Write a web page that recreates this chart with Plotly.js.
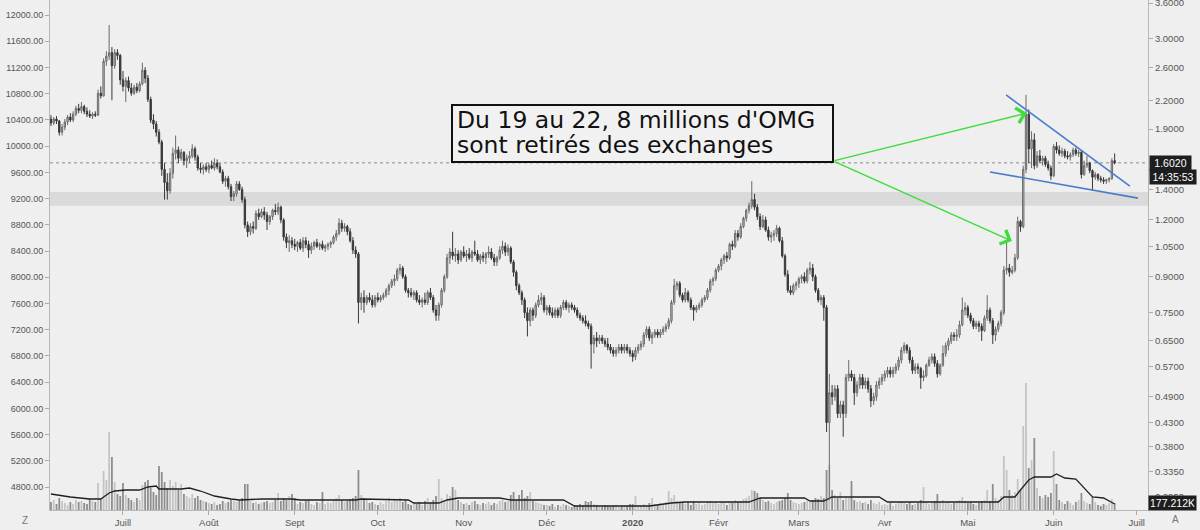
<!DOCTYPE html>
<html><head><meta charset="utf-8">
<script src="https://cdn.plot.ly/plotly-3.0.1.min.js"></script>
<style>html,body{margin:0;padding:0;background:#efefef;}#chart{width:1200px;height:530px;}</style>
</head><body><div id="chart"></div>
<script>
// OMG daily candles, 2019-06-05 .. 2020-06-23
const startDate = [2019, 5, 5];
const open = [
2.00,1.96,2.00,1.98,1.87,1.92,1.97,2.02,1.99,2.05,2.11,2.09,2.13,2.08,2.05,2.03,2.05,2.04,2.28,2.25,2.68,2.75,2.80,2.62,2.80,2.76,
2.44,2.36,2.43,2.34,2.28,2.35,2.31,2.39,2.56,2.46,2.21,1.99,1.95,1.87,1.78,1.55,1.45,1.39,1.52,1.68,1.71,1.64,1.69,1.62,1.64,1.66,1.72,1.65,1.56,1.55,1.57,
1.55,1.58,1.56,1.60,1.57,1.53,1.46,1.48,1.42,1.35,1.37,1.44,1.40,1.33,1.17,1.13,1.16,1.15,1.24,1.22,1.25,1.23,1.19,1.22,1.26,1.25,1.28,1.20,1.10,1.07,1.08,
1.06,1.05,1.07,1.04,1.08,1.06,1.03,1.05,1.07,1.05,1.06,1.04,1.05,1.06,1.07,1.10,1.12,1.18,1.15,1.16,1.13,1.08,1.03,1.01,0.79,0.81,0.79,0.81,0.80,0.78,
0.81,0.80,0.81,0.82,0.84,0.86,0.88,0.89,0.93,0.94,0.90,0.84,0.83,0.82,0.83,0.80,0.79,0.80,0.79,0.83,0.81,0.76,0.74,0.78,0.84,0.90,0.99,1.02,1.00,1.01,0.98,
1.02,1.00,1.01,0.99,1.02,1.01,0.98,1.00,0.99,1.01,1.02,0.99,0.97,0.99,1.03,1.05,1.02,1.04,0.97,0.92,0.86,0.83,0.80,0.75,0.72,0.76,0.74,0.78,0.80,0.81,
0.76,0.77,0.75,0.74,0.76,0.74,0.77,0.79,0.77,0.78,0.77,0.76,0.74,0.73,0.72,0.71,0.70,0.64,0.66,0.65,0.66,0.65,0.64,0.63,0.62,0.61,0.62,0.63,0.62,0.63,0.62,
0.61,0.60,0.62,0.63,0.64,0.67,0.69,0.66,0.67,0.68,0.67,0.68,0.69,0.70,0.72,0.79,0.86,0.87,0.82,0.80,0.83,0.80,0.77,0.76,0.77,0.78,0.80,0.81,0.84,0.88,0.89,
0.93,0.95,0.98,1.00,0.99,1.06,1.05,1.12,1.10,1.16,1.21,1.26,1.29,1.33,1.28,1.22,1.16,1.20,1.14,1.10,1.11,1.12,1.15,1.08,1.00,0.91,0.84,0.83,0.86,
0.87,0.89,0.90,0.88,0.93,0.94,0.90,0.84,0.80,0.81,0.77,0.43,0.50,0.49,0.51,0.45,0.47,0.45,0.54,0.55,0.54,0.50,0.52,0.54,0.52,0.53,0.51,0.48,0.49,0.52,0.53,
0.54,0.55,0.56,0.55,0.56,0.57,0.59,0.62,0.635,0.62,0.59,0.56,0.57,0.565,0.54,0.545,0.575,0.59,0.60,0.58,0.55,0.575,0.61,0.635,0.65,0.67,0.665,0.67,0.705,0.76,
0.77,0.74,0.72,0.70,0.71,0.70,0.685,0.73,0.76,0.72,0.67,0.69,0.71,0.75,0.93,0.94,0.92,0.93,0.99,1.19,1.16,1.55,2.05,1.72,1.80,1.58,1.66,1.62,1.64,1.59,1.56,
1.50,1.74,1.71,1.68,1.70,1.66,1.65,1.67,1.71,1.68,1.69,1.51,1.58,1.60,1.54,1.49,1.51,1.48,1.47,1.46,1.47,1.48,1.62];
const high = [
2.04,2.02,2.03,1.99,1.95,2.00,2.04,2.06,2.08,2.14,2.16,2.18,2.15,2.12,2.09,2.07,2.08,2.32,2.36,2.72,2.82,3.22,2.88,2.85,2.85,2.78,
2.55,2.47,2.48,2.40,2.38,2.40,2.42,2.66,2.60,2.50,2.24,2.05,1.98,1.90,1.80,1.60,1.52,1.56,1.73,1.84,1.74,1.72,1.70,1.67,1.70,1.76,1.74,1.67,1.60,1.59,1.60,
1.60,1.62,1.64,1.63,1.60,1.55,1.50,1.50,1.44,1.39,1.46,1.46,1.42,1.35,1.19,1.18,1.19,1.26,1.27,1.27,1.28,1.25,1.23,1.27,1.30,1.31,1.29,1.21,1.12,1.11,1.10,
1.09,1.08,1.09,1.10,1.10,1.08,1.07,1.08,1.09,1.07,1.08,1.06,1.07,1.08,1.11,1.14,1.21,1.20,1.18,1.17,1.15,1.10,1.05,1.02,0.83,0.84,0.82,0.83,0.82,0.82,
0.83,0.82,0.83,0.85,0.87,0.89,0.91,0.94,0.96,0.95,0.91,0.85,0.85,0.84,0.84,0.82,0.81,0.83,0.84,0.85,0.82,0.78,0.79,0.85,0.91,1.01,1.04,1.13,1.04,1.03,1.03,
1.05,1.03,1.04,1.03,1.08,1.03,1.01,1.02,1.02,1.05,1.04,1.01,1.00,1.05,1.08,1.07,1.06,1.05,0.98,0.93,0.87,0.84,0.81,0.77,0.77,0.77,0.79,0.82,0.83,0.82,
0.78,0.78,0.77,0.77,0.77,0.78,0.80,0.80,0.79,0.79,0.78,0.77,0.75,0.74,0.74,0.72,0.71,0.67,0.68,0.67,0.67,0.66,0.66,0.64,0.63,0.63,0.64,0.64,0.64,0.64,0.63,
0.62,0.63,0.64,0.65,0.68,0.70,0.70,0.68,0.69,0.69,0.69,0.70,0.71,0.73,0.80,0.89,0.88,0.88,0.83,0.85,0.84,0.81,0.78,0.78,0.79,0.81,0.82,0.85,0.89,0.90,0.94,
0.96,0.99,1.01,1.02,1.07,1.08,1.14,1.14,1.18,1.22,1.27,1.31,1.46,1.37,1.30,1.24,1.23,1.22,1.16,1.13,1.14,1.17,1.16,1.10,1.01,0.93,0.86,0.87,0.88,
0.90,0.91,0.92,0.94,0.97,0.96,0.91,0.85,0.82,0.82,0.78,0.55,0.52,0.52,0.52,0.48,0.48,0.55,0.59,0.56,0.55,0.53,0.55,0.55,0.54,0.54,0.52,0.50,0.53,0.54,0.55,
0.56,0.57,0.57,0.57,0.58,0.60,0.63,0.645,0.64,0.63,0.60,0.58,0.58,0.57,0.56,0.58,0.60,0.61,0.61,0.59,0.58,0.635,0.645,0.66,0.68,0.68,0.69,0.72,0.81,0.79,
0.78,0.75,0.73,0.72,0.72,0.71,0.74,0.82,0.77,0.73,0.70,0.72,0.76,0.95,1.08,0.96,0.95,1.01,1.22,1.20,1.58,2.26,2.10,1.88,1.86,1.70,1.71,1.66,1.66,1.62,1.58,
1.76,1.78,1.75,1.73,1.72,1.70,1.69,1.73,1.73,1.71,1.70,1.62,1.66,1.61,1.55,1.53,1.52,1.50,1.49,1.48,1.49,1.64,1.68];
const low = [
1.93,1.94,1.95,1.84,1.84,1.89,1.94,1.97,1.97,2.03,2.06,2.06,2.05,2.02,2.01,2.00,2.02,2.03,2.22,2.24,2.62,2.70,2.20,2.58,2.70,2.38,
2.30,2.18,2.30,2.25,2.26,2.28,2.29,2.37,2.40,2.18,1.96,1.90,1.83,1.76,1.50,1.33,1.33,1.37,1.48,1.63,1.60,1.62,1.58,1.56,1.60,1.64,1.62,1.54,1.52,1.51,1.53,
1.52,1.55,1.54,1.55,1.52,1.44,1.42,1.40,1.32,1.32,1.35,1.39,1.31,1.15,1.10,1.11,1.12,1.14,1.20,1.21,1.20,1.14,1.17,1.20,1.23,1.23,1.18,1.08,1.04,1.02,1.04,
1.03,1.02,1.03,1.02,1.04,0.99,1.01,1.03,1.04,1.03,1.03,1.02,1.03,1.04,1.06,1.08,1.11,1.13,1.13,1.11,1.07,1.01,0.99,0.71,0.76,0.75,0.78,0.79,0.77,0.77,
0.79,0.79,0.80,0.81,0.82,0.85,0.86,0.88,0.91,0.89,0.83,0.81,0.81,0.80,0.79,0.78,0.77,0.78,0.78,0.80,0.75,0.72,0.72,0.77,0.83,0.89,0.96,0.98,0.97,0.96,0.97,
0.99,0.97,0.98,0.97,1.00,0.97,0.96,0.97,0.96,0.99,0.98,0.95,0.95,0.98,1.01,1.00,1.00,0.96,0.90,0.84,0.82,0.78,0.73,0.665,0.70,0.72,0.73,0.77,0.78,0.75,
0.74,0.74,0.73,0.73,0.73,0.73,0.76,0.76,0.75,0.76,0.75,0.73,0.72,0.71,0.70,0.69,0.565,0.61,0.63,0.64,0.64,0.63,0.62,0.61,0.60,0.60,0.61,0.61,0.61,0.61,0.60,
0.585,0.59,0.61,0.62,0.63,0.66,0.65,0.64,0.66,0.66,0.66,0.67,0.68,0.69,0.71,0.78,0.84,0.81,0.79,0.79,0.79,0.76,0.72,0.75,0.76,0.77,0.79,0.80,0.83,0.86,0.88,
0.92,0.93,0.96,0.97,0.98,1.03,1.04,1.08,1.09,1.15,1.19,1.24,1.27,1.26,1.20,1.14,1.15,1.13,1.08,1.07,1.08,1.10,1.07,0.99,0.90,0.83,0.82,0.82,0.84,
0.85,0.87,0.87,0.87,0.91,0.88,0.83,0.79,0.78,0.72,0.41,0.29,0.47,0.48,0.44,0.44,0.40,0.44,0.53,0.53,0.47,0.49,0.51,0.51,0.51,0.50,0.465,0.47,0.48,0.51,0.52,
0.53,0.54,0.54,0.54,0.55,0.56,0.58,0.61,0.61,0.58,0.55,0.55,0.55,0.51,0.53,0.54,0.57,0.58,0.57,0.54,0.545,0.57,0.60,0.62,0.64,0.65,0.65,0.66,0.70,0.74,
0.73,0.71,0.69,0.69,0.68,0.65,0.68,0.72,0.71,0.64,0.65,0.68,0.70,0.74,0.91,0.90,0.91,0.92,0.98,1.13,1.15,1.52,1.60,1.56,1.55,1.56,1.60,1.58,1.57,1.54,1.47,
1.49,1.68,1.66,1.65,1.64,1.63,1.62,1.65,1.66,1.65,1.48,1.50,1.56,1.52,1.39,1.47,1.46,1.45,1.44,1.44,1.45,1.47,1.59];
const close = [
1.96,2.00,1.98,1.87,1.92,1.97,2.02,1.99,2.05,2.11,2.09,2.13,2.08,2.05,2.03,2.05,2.04,2.28,2.25,2.68,2.75,2.80,2.62,2.80,2.76,2.44,
2.36,2.43,2.34,2.28,2.35,2.31,2.39,2.56,2.46,2.21,1.99,1.95,1.87,1.78,1.55,1.45,1.39,1.52,1.68,1.71,1.64,1.69,1.62,1.64,1.66,1.72,1.65,1.56,1.55,1.57,1.55,
1.58,1.56,1.60,1.57,1.53,1.46,1.48,1.42,1.35,1.37,1.44,1.40,1.33,1.17,1.13,1.16,1.15,1.24,1.22,1.25,1.23,1.19,1.22,1.26,1.25,1.28,1.20,1.10,1.07,1.08,1.06,
1.05,1.07,1.04,1.08,1.06,1.03,1.05,1.07,1.05,1.06,1.04,1.05,1.06,1.07,1.10,1.12,1.18,1.15,1.16,1.13,1.08,1.03,1.01,0.79,0.81,0.79,0.81,0.80,0.78,0.81,
0.80,0.81,0.82,0.84,0.86,0.88,0.89,0.93,0.94,0.90,0.84,0.83,0.82,0.83,0.80,0.79,0.80,0.79,0.83,0.81,0.76,0.74,0.78,0.84,0.90,0.99,1.02,1.00,1.01,0.98,1.02,
1.00,1.01,0.99,1.02,1.01,0.98,1.00,0.99,1.01,1.02,0.99,0.97,0.99,1.03,1.05,1.02,1.04,0.97,0.92,0.86,0.83,0.80,0.75,0.72,0.76,0.74,0.78,0.80,0.81,0.76,
0.77,0.75,0.74,0.76,0.74,0.77,0.79,0.77,0.78,0.77,0.76,0.74,0.73,0.72,0.71,0.70,0.64,0.66,0.65,0.66,0.65,0.64,0.63,0.62,0.61,0.62,0.63,0.62,0.63,0.62,0.61,
0.60,0.62,0.63,0.64,0.67,0.69,0.66,0.67,0.68,0.67,0.68,0.69,0.70,0.72,0.79,0.86,0.87,0.82,0.80,0.83,0.80,0.77,0.76,0.77,0.78,0.80,0.81,0.84,0.88,0.89,0.93,
0.95,0.98,1.00,0.99,1.06,1.05,1.12,1.10,1.16,1.21,1.26,1.29,1.33,1.28,1.22,1.16,1.20,1.14,1.10,1.11,1.12,1.15,1.08,1.00,0.91,0.84,0.83,0.86,0.87,
0.89,0.90,0.88,0.93,0.94,0.90,0.84,0.80,0.81,0.77,0.43,0.50,0.49,0.51,0.45,0.47,0.45,0.54,0.55,0.54,0.50,0.52,0.54,0.52,0.53,0.51,0.48,0.49,0.52,0.53,0.54,
0.55,0.56,0.55,0.56,0.57,0.59,0.62,0.635,0.62,0.59,0.56,0.57,0.565,0.54,0.545,0.575,0.59,0.60,0.58,0.55,0.575,0.61,0.635,0.65,0.67,0.665,0.67,0.705,0.76,0.77,
0.74,0.72,0.70,0.71,0.70,0.685,0.73,0.76,0.72,0.67,0.69,0.71,0.75,0.93,0.94,0.92,0.93,0.99,1.19,1.16,1.55,2.05,1.72,1.80,1.58,1.66,1.62,1.64,1.59,1.56,1.50,
1.74,1.71,1.68,1.70,1.66,1.65,1.67,1.71,1.68,1.69,1.51,1.58,1.60,1.54,1.49,1.51,1.48,1.47,1.46,1.47,1.48,1.62,1.602];
// daily volume, thousands
const volume = [
200,250,150,300,225,175,125,200,150,250,200,225,175,150,275,225,200,675,300,975,750,1950,1325,700,400,350,
675,375,300,250,200,300,250,625,700,750,550,450,375,1100,950,700,550,750,600,700,500,650,400,350,300,400,300,350,250,225,200,
175,150,200,125,150,225,175,200,250,225,200,250,300,650,650,225,175,200,150,175,200,225,175,200,250,425,225,300,250,350,400,
300,150,200,175,225,250,150,125,200,175,450,150,200,175,250,300,375,250,200,225,275,300,350,1000,375,300,250,175,200,150,
125,200,150,225,300,200,250,225,300,200,250,150,125,175,150,200,125,225,300,175,250,350,775,300,250,400,350,575,500,250,200,
150,175,125,200,225,150,125,175,150,200,125,175,150,225,250,200,225,375,450,250,375,500,300,350,450,225,200,175,150,125,
125,100,150,75,125,100,150,125,100,75,125,100,150,125,225,200,225,150,125,100,75,125,100,75,100,125,75,100,125,100,150,
150,350,125,100,150,125,175,300,150,125,175,150,200,475,300,375,225,200,175,150,200,125,225,150,175,125,150,200,225,175,200,
150,200,175,125,225,175,250,200,225,275,300,350,500,475,425,300,250,200,225,175,150,200,225,250,300,425,250,200,175,
150,175,200,225,200,250,300,275,350,300,1000,1125,500,375,300,450,250,300,300,725,250,200,225,175,200,150,250,175,150,200,125,
150,125,175,100,150,200,225,175,150,200,125,150,175,250,575,200,150,175,225,400,200,250,175,200,150,175,225,250,325,225,
175,200,150,125,175,225,250,500,225,650,300,250,350,1350,1000,500,375,450,775,500,2100,3175,1050,1250,1800,550,350,300,375,325,425,
1475,650,250,200,150,225,175,125,200,250,425,225,175,150,325,200,125,100,150,125,175,275,177.212];
// volume moving average (thousands)
const maDates = ['2019-06-05','2019-06-12','2019-06-19','2019-06-23','2019-06-24','2019-06-26','2019-06-28','2019-07-02','2019-07-07','2019-07-10','2019-07-13','2019-07-14','2019-07-22','2019-07-25','2019-07-29','2019-08-03','2019-08-09','2019-08-12','2019-08-20','2019-08-31','2019-09-03','2019-09-23','2019-09-25','2019-10-12','2019-10-14','2019-10-23','2019-10-26','2019-10-30','2019-11-14','2019-11-18','2019-12-07','2019-12-11','2020-01-07','2020-01-15','2020-01-20','2020-02-12','2020-02-16','2020-03-03','2020-03-05','2020-03-10','2020-03-13','2020-03-30','2020-04-02','2020-05-12','2020-05-14','2020-05-18','2020-05-20','2020-05-23','2020-05-25','2020-05-31','2020-06-02','2020-06-05','2020-06-09','2020-06-11','2020-06-15','2020-06-19','2020-06-22','2020-06-23'];
const maVolume = [400,325,275,275,325,425,475,500,500,575,600,525,525,550,475,350,275,250,275,275,250,250,275,250,175,175,250,300,300,250,250,100,100,175,200,200,300,300,225,225,325,325,200,200,325,325,500,750,825,825,900,800,775,625,325,300,175,150];
const monthTicks = ['2019-07-01','2019-08-01','2019-09-01','2019-10-01','2019-11-01','2019-12-01','2020-01-01','2020-02-01','2020-03-01','2020-04-01','2020-05-01','2020-06-01','2020-07-01'];
const monthLabels = ['Juill','Août','Sept','Oct','Nov','Déc','<b>2020</b>','Févr','Mars','Avr','Mai','Juin','Juill'];
const leftTicks = [4800,5200,5600,6000,6400,6800,7200,7600,8000,8400,8800,9200,9600,10000,10400,10800,11200,11600,12000];
const rightTicks = [0.295,0.335,0.38,0.43,0.49,0.57,0.65,0.75,0.9,1.05,1.2,1.4,1.9,2.2,2.6,3.0,3.6];
const noteLines = ["Du 19 au 22, 8 millions d'OMG", "sont retirés des exchanges"];

const dates = close.map((_, i) => new Date(Date.UTC(startDate[0], startDate[1], startDate[2] + i)).toISOString().slice(0, 10));
const lastClose = close[close.length - 1];
const lastVol = volume[volume.length - 1];
const volColors = close.map((c, i) => c >= open[i] ? '#c4c4c4' : '#8e8e8e');

const traces = [
  {type:'scatter', x:[], y:[], xaxis:'x', yaxis:'y', hoverinfo:'skip', showlegend:false},
  {type:'bar', x:dates, y:volume, xaxis:'x', yaxis:'y2', marker:{color:volColors, line:{width:0}}, hoverinfo:'skip'},
  {type:'scatter', mode:'lines', x:maDates, y:maVolume, xaxis:'x', yaxis:'y2', line:{color:'#202020', width:1.3}, hoverinfo:'skip'},
  {type:'candlestick', x:dates, open:open, high:high, low:low, close:close, xaxis:'x', yaxis:'y3',
   increasing:{line:{color:'#6a6a6a', width:1}, fillcolor:'#c8c8c8'},
   decreasing:{line:{color:'#383838', width:1}, fillcolor:'#383838'},
   whiskerwidth:0, hoverinfo:'skip'}
];

const px2paperX = p => (p - 50) / 1098;
const px2paperY = p => 1 - p / 510;

const layout = {
  width:1200, height:530,
  margin:{l:50, r:52, t:0, b:20, pad:0},
  paper_bgcolor:'#efefef', plot_bgcolor:'#efefef',
  showlegend:false, hovermode:false, bargap:0.35,
  font:{family:'Liberation Sans, Arial, sans-serif', size:9.5, color:'#555'},
  xaxis:{type:'date', range:['2019-06-04 15:36','2020-07-05 01:00'], tickvals:monthTicks, ticktext:monthLabels,
    ticks:'outside', ticklen:4, tickcolor:'#aaa', showgrid:false, zeroline:false, showline:true, linecolor:'#b8b8b8',
    tickfont:{size:9.5, color:'#555'}, rangeslider:{visible:false}, fixedrange:true},
  yaxis:{range:[4450,12229], tickvals:leftTicks, ticktext:leftTicks.map(v => v.toFixed(2)), ticks:'outside', ticklen:4,
    tickcolor:'#aaa', showline:true, linecolor:'#b8b8b8', showgrid:false, zeroline:false, tickfont:{size:9, color:'#555'},
    ticklabeloverflow:'allow', fixedrange:true},
  yaxis2:{overlaying:'y', range:[0,12750], visible:false, fixedrange:true},
  yaxis3:{overlaying:'y', side:'right', type:'log', range:[-0.559,0.5629], tickvals:rightTicks, ticktext:rightTicks.map(v => v.toFixed(4)),
    ticks:'outside', ticklen:4, tickcolor:'#aaa', showline:true, linecolor:'#b8b8b8', showgrid:false, zeroline:false,
    tickfont:{size:9.5, color:'#555'}, ticklabeloverflow:'allow', fixedrange:true},
  shapes:[
    {type:'rect', xref:'paper', x0:0, x1:1, yref:'y', y0:9090, y1:9300, fillcolor:'#dadada', line:{width:0}, layer:'below'},
    {type:'line', xref:'paper', x0:0, x1:1, yref:'y3', y0:lastClose, y1:lastClose, line:{color:'#8c8c8c', width:1, dash:'dot'}, layer:'below'},
    {type:'line', xref:'x', yref:'y3', x0:'2020-05-14 19:00', y0:2.26, x1:'2020-06-28 12:00', y1:1.424, line:{color:'#4a7ccc', width:1.6}},
    {type:'line', xref:'x', yref:'y3', x0:'2020-05-09 00:00', y0:1.53, x1:'2020-07-01 10:00', y1:1.34, line:{color:'#4a7ccc', width:1.6}},
    {type:'rect', xref:'paper', yref:'paper', x0:px2paperX(452), x1:px2paperX(833), y0:px2paperY(162), y1:px2paperY(105),
     fillcolor:'#f1f1f1', line:{color:'#111', width:2}}
  ],
  annotations:[
    {xref:'paper', yref:'paper', x:px2paperX(455.5), y:px2paperY(120.2), xanchor:'left', yanchor:'middle', showarrow:false,
     text:noteLines[0], font:{family:'DejaVu Sans', size:23.5, color:'#111'}, height:22, borderpad:0},
    {xref:'paper', yref:'paper', x:px2paperX(455.5), y:px2paperY(144.6), xanchor:'left', yanchor:'middle', showarrow:false,
     text:noteLines[1], font:{family:'DejaVu Sans', size:23.5, color:'#111'}, height:26, borderpad:0},
    {xref:'x', yref:'y3', x:'2020-05-22 08:00', y:Math.log10(2.062), axref:'x', ayref:'y3', ax:'2020-03-13 08:00', ay:Math.log10(1.617),
     text:' ', font:{size:1}, showarrow:true, arrowhead:4, arrowsize:2, arrowwidth:1.5, arrowcolor:'#3fdc3f'},
    {xref:'x', yref:'y3', x:'2020-05-16 22:00', y:Math.log10(1.078), axref:'x', ayref:'y3', ax:'2020-03-13 08:00', ay:Math.log10(1.617),
     text:' ', font:{size:1}, showarrow:true, arrowhead:4, arrowsize:2, arrowwidth:1.5, arrowcolor:'#3fdc3f'},
    {xref:'paper', yref:'y3', x:1, y:Math.log10(lastClose), xanchor:'left', yanchor:'middle', xshift:1, showarrow:false,
     text:lastClose.toFixed(4), bgcolor:'#1e1e1e', font:{color:'#fff', size:10.5}, width:38, height:11, borderpad:1.5},
    {xref:'paper', yref:'y3', x:1, y:Math.log10(lastClose), xanchor:'left', yanchor:'middle', xshift:1, yshift:-14, showarrow:false,
     text:'14:35:53', bgcolor:'#1e1e1e', font:{color:'#fff', size:10.5}, width:43, height:11, borderpad:1.5},
    {xref:'paper', yref:'y2', x:1, y:lastVol, xanchor:'left', yanchor:'middle', showarrow:false,
     text:lastVol.toFixed(3) + 'K', bgcolor:'#1e1e1e', font:{color:'#fff', size:10.5}, width:44, height:11, borderpad:1.5},
    {xref:'paper', yref:'paper', x:px2paperX(25), y:px2paperY(520), xanchor:'center', yanchor:'middle', showarrow:false, text:'Z', font:{size:10, color:'#777'}},
    {xref:'paper', yref:'paper', x:px2paperX(1175), y:px2paperY(519), xanchor:'center', yanchor:'middle', showarrow:false, text:'A', font:{size:10, color:'#777'}}
  ]
};

Plotly.newPlot('chart', traces, layout, {staticPlot:true, displayModeBar:false});
</script></body></html>
